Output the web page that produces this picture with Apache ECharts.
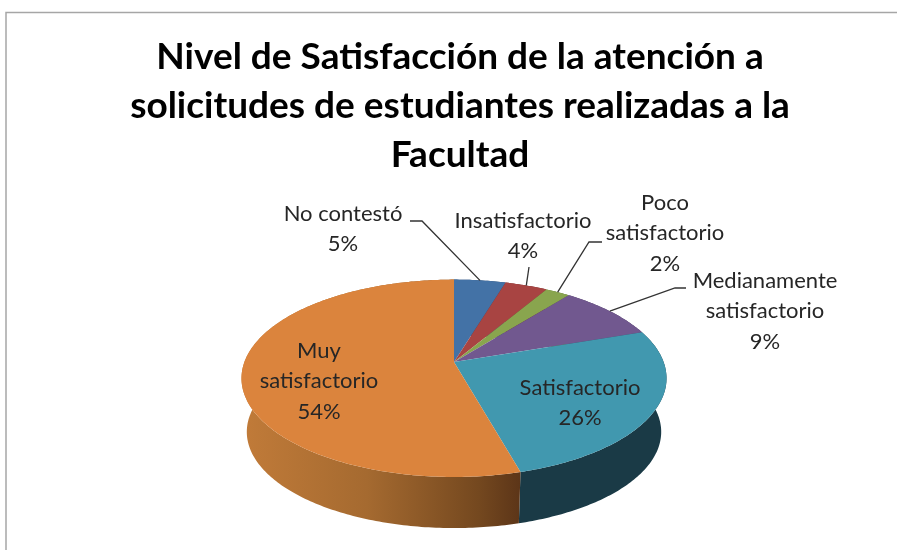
<!DOCTYPE html>
<html><head><meta charset="utf-8">
<style>html,body{margin:0;padding:0;background:#fff}#c{width:897px;height:550px;filter:blur(0.5px)}</style>
<script src="https://cdn.jsdelivr.net/npm/echarts@6/dist/echarts.min.js"></script>
</head><body><div id="c"></div>
<script>
// Data
const titleLines = ['Nivel de Satisfacción de la atención a','solicitudes de estudiantes realizadas a la','Facultad'];
const categories = ['No contestó','Insatisfactorio','Poco satisfactorio','Medianamente satisfactorio','Satisfactorio','Muy satisfactorio'];
const values = [4.6,3.8,2.2,9.1,26,54.3];
const percentLabels = ['5%','4%','2%','9%','26%','54%'];

// Styles / layout
const topColors = ['#4372A6','#A84442','#89A54E','#71588F','#4198AF','#DB843D'];
const sideColors = ['#2c4a6c','#6d2c2b','#596b33','#49395d','#1A3A46',
  {type:'linear',x:0,y:0,x2:1,y2:0,colorStops:[{offset:0,color:'#C17B39'},{offset:.45,color:'#A56A30'},{offset:.85,color:'#74481F'},{offset:1,color:'#5C3518'}]}];
const labelLines = [['No contestó'],['Insatisfactorio'],['Poco','satisfactorio'],['Medianamente','satisfactorio'],['Satisfactorio'],['Muy','satisfactorio']];
const labelPos = [[343,229],[523,236],[665,233],[765,311],[580,403],[319,381]];
const leaderStart = [[[410,221],[422,221]],[[529,267]],[[602,242],[589,242]],[[686,288],[675,288]],null,null];
const apex = {x:454,y:362}, A = 209.6, B = 96, K = 0.165;
const depthY = 54, depthScale = 0.975;
const lineH = 30.5, labelFont = 'Lato, "Noto Sans", sans-serif';

function projTop(t){const w=1+K*Math.cos(t);return [apex.x+A*Math.sin(t)/w, apex.y-B*Math.cos(t)/w];}
function projBot(t){const p=projTop(t);return [apex.x+(p[0]-apex.x)*depthScale, apex.y+depthY+(p[1]-apex.y)*depthScale];}
const total = values.reduce((a,b)=>a+b,0);
function range(i){let s=0;for(let k=0;k<i;k++)s+=values[k];return [s/total*2*Math.PI,(s+values[i])/total*2*Math.PI];}
function arc(fn,a,b){const n=Math.max(4,Math.ceil((b-a)/0.015)),o=[];for(let i=0;i<=n;i++)o.push(fn(a+(b-a)*i/n));return o;}

const wallSeries = {type:'custom',coordinateSystem:'none',silent:true,z:2,
  data:values.map((v,i)=>[v,i]),
  renderItem(p,api){const i=api.value(1),[a,b]=range(i);
    const pts=arc(projTop,a,b).concat(arc(projBot,a,b).reverse());
    return {type:'polygon',shape:{points:pts},style:{fill:sideColors[i]}};}};
const faceSeries = {type:'custom',coordinateSystem:'none',silent:true,z:3,
  data:values.map((v,i)=>[v,i]),
  renderItem(p,api){const i=api.value(1),[a,b]=range(i);
    const pts=[[apex.x,apex.y]].concat(arc(projTop,a,b));
    return {type:'polygon',shape:{points:pts},style:{fill:topColors[i]}};}};
const leaderSeries = {type:'custom',coordinateSystem:'none',silent:true,z:4,
  data:values.map((v,i)=>[v,i]),
  renderItem(p,api){const i=api.value(1);
    const start=leaderStart[i]; if(!start) return {type:'group',children:[]};
    const [a,b]=range(i);
    return {type:'polyline',shape:{points:start.concat([projTop((a+b)/2)])},style:{stroke:'#333',lineWidth:1.3,fill:null}};}};
const labelSeries = {type:'custom',coordinateSystem:'none',silent:true,z:5,
  data:values.map((v,i)=>[v,i]),
  renderItem(p,api){const i=api.value(1);
    return {type:'text',style:{x:labelPos[i][0],y:labelPos[i][1],text:labelLines[i].concat([percentLabels[i]]).join('\n'),
      align:'center',verticalAlign:'middle',fill:'#262626',font:'22px '+labelFont,lineHeight:lineH}};}};

const chart = echarts.init(document.getElementById('c'),null,{renderer:'canvas'});
chart.setOption({
  animation:false,backgroundColor:'#fff',
  title:{text:titleLines.join('\n'),left:455,top:28,textAlign:'center',
    textStyle:{fontFamily:'Lato',fontWeight:'bold',fontSize:37,lineHeight:49,color:'#000'}},
  graphic:[{type:'polyline',shape:{points:[[6,560],[6,12.5],[900,12.5]]},style:{stroke:'#A6A6A6',lineWidth:1.5,fill:null},silent:true}],
  series:[wallSeries,faceSeries,leaderSeries,labelSeries]
});
</script></body></html>
